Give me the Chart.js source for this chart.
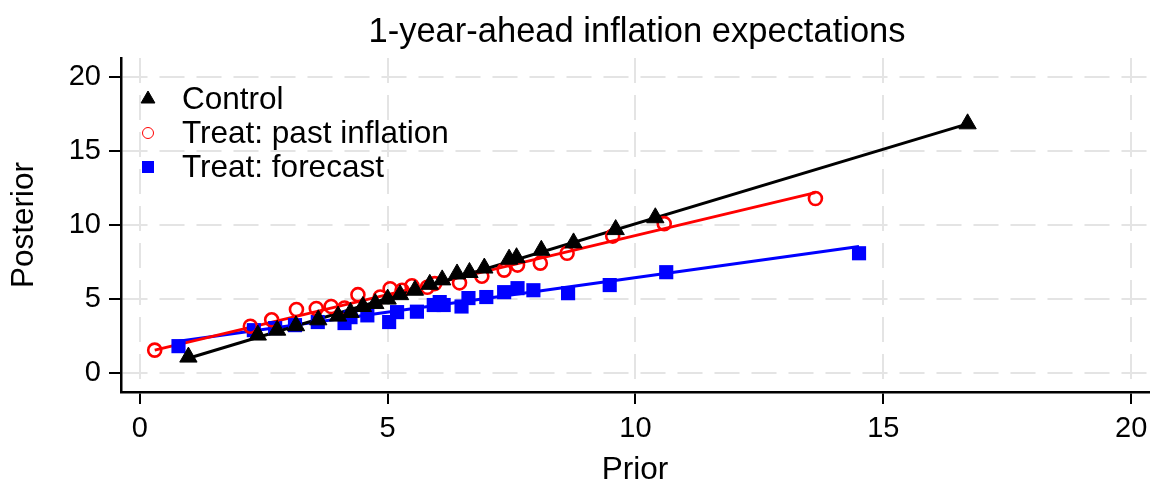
<!DOCTYPE html>
<html>
<head>
<meta charset="utf-8">
<script src="https://cdn.jsdelivr.net/npm/chart.js@4/dist/chart.umd.min.js"></script>
<style>
  html, body { margin: 0; padding: 0; background: #fff; }
  #wrap { width: 1160px; height: 483px; }
</style>
</head>
<body>
<div id="wrap"><canvas id="binChart"></canvas></div>
<script>
// Binned scatter: prior vs posterior 1-year-ahead inflation expectations
const controlX = [0.98, 2.38, 2.77, 3.15, 3.6, 4.0, 4.25, 4.5, 4.75, 5.0, 5.25, 5.55, 5.85, 6.1, 6.4, 6.65, 6.95, 7.45, 7.6, 8.1, 8.75, 9.6, 10.4, 16.7];
const controlY = [1.08, 2.57, 2.9, 3.2, 3.6, 3.85, 4.1, 4.5, 4.7, 5.0, 5.3, 5.6, 6.0, 6.3, 6.7, 6.8, 7.1, 7.7, 7.8, 8.3, 8.8, 9.7, 10.5, 16.85];

const pastX = [0.3, 2.23, 2.66, 3.16, 3.56, 3.86, 4.13, 4.4, 4.85, 5.05, 5.29, 5.49, 5.8, 5.95, 6.45, 6.9, 7.35, 7.62, 8.08, 8.62, 9.54, 10.58, 13.63];
const pastY = [1.55, 3.17, 3.6, 4.3, 4.37, 4.5, 4.4, 5.3, 5.14, 5.7, 5.6, 5.9, 5.8, 6.05, 6.1, 6.55, 6.96, 7.3, 7.43, 8.1, 9.26, 10.1, 11.8];

const forecastX = [0.78, 2.3, 2.73, 3.13, 3.59, 4.13, 4.25, 4.59, 5.03, 5.19, 5.59, 5.93, 6.05, 6.13, 6.49, 6.63, 6.99, 7.35, 7.62, 7.94, 8.64, 9.48, 10.62, 14.51];
const forecastY = [1.82, 2.9, 3.04, 3.24, 3.45, 3.38, 3.78, 3.9, 3.45, 4.12, 4.15, 4.6, 4.8, 4.6, 4.5, 5.07, 5.14, 5.47, 5.74, 5.6, 5.4, 5.95, 6.82, 8.1];

// fitted lines (end points)
const controlFitX = [0.98, 16.7];
const controlFitY = [1.0, 16.85];
const pastFitX = [0.3, 13.63];
const pastFitY = [1.55, 12.2];
const forecastFitX = [0.78, 14.51];
const forecastFitY = [2.15, 8.55];

const xTicks = [0, 5, 10, 15, 20];
const yTicks = [0, 5, 10, 15, 20];

const seriesNames = ['Control', 'Treat: past inflation', 'Treat: forecast'];
const chartTitle = '1-year-ahead inflation expectations';

const FONT = '"Liberation Sans", Arial, Helvetica, sans-serif';

function pts(xs, ys) {
    return xs.map((x, i) => ({ x: x, y: ys[i] }));
}

function fitLine(xs, ys, color, order) {
    return {
        type: 'line',
        label: '',
        data: pts(xs, ys),
        borderColor: color,
        borderWidth: 3,
        pointRadius: 0,
        fill: false,
        order: order,
        isFit: true
    };
}

// title centred over the plot area, legend inside the plot (top left)
const titleAndLegend = {
    id: 'titleAndLegend',
    afterDraw(chart) {
        const ctx = chart.ctx;
        const area = chart.chartArea;
        ctx.save();
        ctx.fillStyle = '#000';
        ctx.font = '34.5px ' + FONT;
        ctx.textAlign = 'center';
        ctx.textBaseline = 'middle';
        ctx.fillText(chartTitle, (area.left + area.right) / 2 + 2, 32);

        const rows = chart.data.datasets.filter(d => !d.isFit);
        ctx.font = '31.5px ' + FONT;
        ctx.textAlign = 'left';
        rows.forEach((d, i) => {
            const y = area.top + 41 + i * 34;
            const mx = area.left + 27;
            ctx.fillStyle = d.pointBackgroundColor;
            ctx.strokeStyle = d.pointBorderColor;
            Chart.helpers.drawPoint(ctx, {
                pointStyle: d.pointStyle,
                radius: d.legendRadius,
                borderWidth: d.pointBorderWidth,
                rotation: 0
            }, mx, y);
            ctx.fillStyle = '#000';
            ctx.fillText(d.label, area.left + 61, y + 1);
        });
        ctx.restore();
    }
};

const ctx = document.getElementById('binChart').getContext('2d');

new Chart(ctx, {
    type: 'scatter',
    data: {
        datasets: [
            {
                label: seriesNames[0],
                data: pts(controlX, controlY),
                pointStyle: 'triangle',
                pointRadius: 10,
                pointHoverRadius: 10,
                pointBackgroundColor: '#000000',
                pointBorderColor: '#000000',
                pointBorderWidth: 1,
                legendRadius: 8,
                order: 0
            },
            {
                label: seriesNames[1],
                data: pts(pastX, pastY),
                pointStyle: 'circle',
                pointRadius: 6.5,
                pointHoverRadius: 6.5,
                pointBackgroundColor: 'rgba(255,255,255,0)',
                pointBorderColor: '#ff0000',
                pointBorderWidth: 2.6,
                legendRadius: 5.5,
                order: 1
            },
            {
                label: seriesNames[2],
                data: pts(forecastX, forecastY),
                pointStyle: 'rect',
                pointRadius: 10,
                pointHoverRadius: 10,
                pointBackgroundColor: '#0000ff',
                pointBorderColor: '#0000ff',
                pointBorderWidth: 0,
                legendRadius: 8.5,
                order: 2
            },
            fitLine(controlFitX, controlFitY, '#000000', 3),
            fitLine(pastFitX, pastFitY, '#ff0000', 4),
            fitLine(forecastFitX, forecastFitY, '#0000ff', 5)
        ]
    },
    options: {
        responsive: true,
        maintainAspectRatio: false,
        animation: false,
        layout: { padding: { top: 58, left: 0, right: 0, bottom: 0 } },
        plugins: {
            legend: { display: false },
            tooltip: { enabled: false },
            title: { display: false }
        },
        scales: {
            x: {
                type: 'linear',
                min: -0.38,
                max: 20.36,
                afterBuildTicks: s => { s.ticks = xTicks.map(v => ({ value: v })); },
                afterFit: s => { s.height = 91; s.paddingLeft = 0; s.paddingRight = 0; },
                ticks: {
                    color: '#000',
                    font: { family: FONT, size: 29 },
                    padding: 8,
                    maxRotation: 0
                },
                grid: {
                    color: '#e4e4e4',
                    lineWidth: 2,
                    tickColor: '#000',
                    tickLength: 12,
                    tickWidth: 2
                },
                border: { display: true, color: '#000', width: 2.5, dash: [25, 12] },
                title: {
                    display: true,
                    text: 'Prior',
                    color: '#000',
                    font: { family: FONT, size: 31.5, lineHeight: 0.8 },
                    padding: { top: 0, bottom: 0 }
                }
            },
            y: {
                type: 'linear',
                min: -1.28,
                max: 21.3,
                afterBuildTicks: s => { s.ticks = yTicks.map(v => ({ value: v })); },
                afterFit: s => { s.width = 121; s.paddingTop = 0; s.paddingBottom = 0; },
                ticks: {
                    color: '#000',
                    font: { family: FONT, size: 29 },
                    padding: 8
                },
                grid: {
                    color: '#e4e4e4',
                    lineWidth: 2,
                    tickColor: '#000',
                    tickLength: 12,
                    tickWidth: 2
                },
                border: { display: true, color: '#000', width: 2.5, dash: [25, 12] },
                title: {
                    display: true,
                    text: 'Posterior',
                    color: '#000',
                    font: { family: FONT, size: 31.5, lineHeight: 1.2 },
                    padding: { top: 5, bottom: 0 }
                }
            }
        }
    },
    plugins: [titleAndLegend]
});
</script>
</body>
</html>
